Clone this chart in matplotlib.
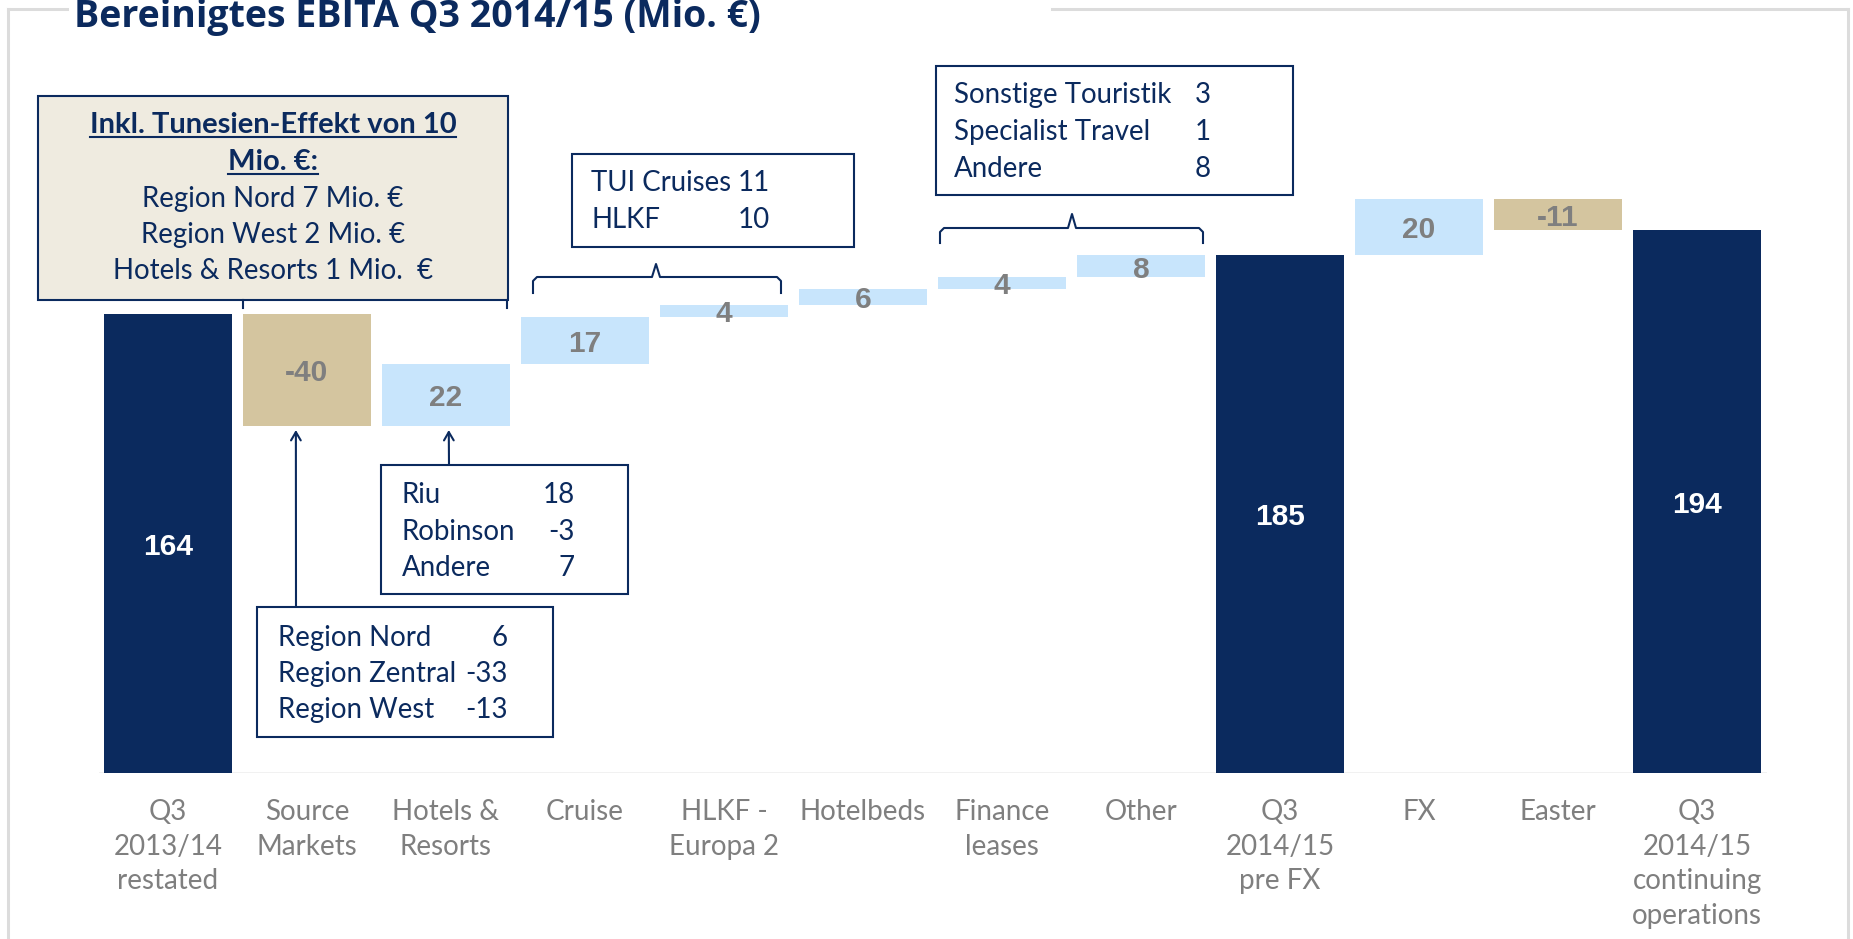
import matplotlib
matplotlib.use("Agg")
import matplotlib.pyplot as plt
from matplotlib.patches import Rectangle
from matplotlib.lines import Line2D

# ---------------- data ----------------
categories = ["Q3\n2013/14\nrestated", "Source\nMarkets", "Hotels &\nResorts", "Cruise",
              "HLKF -\nEuropa 2", "Hotelbeds", "Finance\nleases", "Other",
              "Q3\n2014/15\npre FX", "FX", "Easter",
              "Q3\n2014/15\ncontinuing\noperations"]
values = [164, -40, 22, 17, 4, 6, 4, 8, 185, 20, -11, 194]
is_total = [True, False, False, False, False, False, False, False, True, False, False, True]

title = "Bereinigtes EBITA Q3 2014/15 (Mio. €)"
box_tunesien_head = ["Inkl. Tunesien-Effekt von 10", "Mio. €:"]
box_tunesien_lines = ["Region Nord 7 Mio. €", "Region West 2 Mio. €", "Hotels & Resorts 1 Mio.  €"]
box_cruise_labels = ["TUI Cruises", "HLKF"]
box_cruise_values = ["11", "10"]
box_other_labels = ["Sonstige Touristik", "Specialist Travel", "Andere"]
box_other_values = ["3", "1", "8"]
box_hotels_labels = ["Riu", "Robinson", "Andere"]
box_hotels_values = ["18", "-3", "7"]
box_source_labels = ["Region Nord", "Region Zentral", "Region West"]
box_source_values = ["6", "-33", "-13"]

# ---------------- style ----------------
NAVY = "#0B2A5E"
TAN = "#D4C59F"
LIGHT = "#C8E5FC"
GRAY = "#7F7F7F"
BEIGE = "#EFEBE0"
FRAME = "#DCDCDC"
W, H = 1853, 939
BOXFONT = "Lato"
BOXFS = 19.9

fig = plt.figure(figsize=(W / 100, H / 100), dpi=100)


def P(x, y):
    """full-image pixel (from top-left) -> figure fraction"""
    return x / W, 1 - y / H


# axes placement
left_px, right_px = 98.5, 1766.5
base_px, top_px = 773, 73
ax = fig.add_axes([left_px / W, (H - base_px) / H, (right_px - left_px) / W, (base_px - top_px) / H])
ax.set_xlim(-0.5, len(values) - 0.5)
ax.set_ylim(0, 250)
for s in ax.spines.values():
    s.set_visible(False)
ax.set_yticks([])

# waterfall geometry
bottoms, heights, colors = [], [], []
running = 0
for v, tot in zip(values, is_total):
    if tot:
        bottoms.append(0)
        heights.append(v)
        colors.append(NAVY)
        running = v
    else:
        if v >= 0:
            bottoms.append(running)
            colors.append(LIGHT)
        else:
            bottoms.append(running + v)
            colors.append(TAN)
        heights.append(abs(v))
        running += v

xs = list(range(len(values)))
ax.bar(xs, heights, bottom=bottoms, width=0.915, color=colors, zorder=2)
ax.axhline(0, color="#BBBBBB", lw=1.0, zorder=1)

for x, b, h, v, tot in zip(xs, bottoms, heights, values, is_total):
    ax.text(x, b + h / 2 - 1.2, f"{v}", ha="center", va="center",
            fontsize=21.5, fontweight="bold", family="Liberation Sans",
            color="white" if tot else GRAY, zorder=3)

ax.set_xticks(xs)
ax.set_xticklabels(categories, fontsize=20, color=GRAY, family=BOXFONT, linespacing=1.4)
ax.tick_params(axis="x", length=0, pad=19)

# ---------------- frame ----------------
for (x0, y0, x1, y1) in [(8, 9, 67, 9), (1052, 9, 1848, 9), (8, 9, 8, 939), (1848, 9, 1848, 939)]:
    fig.add_artist(Line2D([P(x0, y0)[0], P(x1, y1)[0]], [P(x0, y0)[1], P(x1, y1)[1]],
                          color=FRAME, lw=2.2, transform=fig.transFigure))

# title
fig.text(*P(74, 27), title, fontsize=27, fontweight="bold", family="Open Sans",
         color=NAVY, ha="left", va="baseline")


def rect(x0, y0, x1, y1, fc="white", lw=1.5):
    fx0, fy1 = P(x0, y0)
    fx1, fy0 = P(x1, y1)
    fig.add_artist(Rectangle((fx0, fy0), fx1 - fx0, fy1 - fy0, transform=fig.transFigure,
                             facecolor=fc, edgecolor=NAVY, lw=lw, zorder=5))


def line(pts, lw=1.5):
    fig.add_artist(Line2D([P(*p)[0] for p in pts], [P(*p)[1] for p in pts],
                          color=NAVY, lw=lw, transform=fig.transFigure, zorder=5))


def table(labels, vals, xl, xr, ys, fs=BOXFS):
    for lab, val, y in zip(labels, vals, ys):
        fig.text(*P(xl, y), lab, fontsize=fs, family=BOXFONT, color=NAVY,
                 ha="left", va="center", zorder=6)
        fig.text(*P(xr, y), val, fontsize=fs, family=BOXFONT, color=NAVY,
                 ha="right", va="center", zorder=6)


# Tunesien box
rect(38, 96, 508, 300, fc=BEIGE)
line([(243, 300), (243, 308)])
line([(507, 300), (507, 308)])
head_texts = []
for t, y in zip(box_tunesien_head, [125, 162]):
    head_texts.append(fig.text(*P(273, y), t, fontsize=21, fontweight="bold", family=BOXFONT,
                               color=NAVY, ha="center", va="center", zorder=6))
for t, y in zip(box_tunesien_lines, [199, 235, 271]):
    fig.text(*P(273, y), t, fontsize=BOXFS, family=BOXFONT, color=NAVY,
             ha="center", va="center", zorder=6)

# Cruise box + brace
rect(572, 154, 854, 247)
table(box_cruise_labels, box_cruise_values, 591, 770, [183, 220])
line([(533, 293), (533, 281), (537, 277), (652, 277), (656, 264), (660, 277), (777, 277), (781, 281), (781, 293)])

# Other box + brace
rect(936, 66, 1293, 195)
table(box_other_labels, box_other_values, 954, 1211, [95, 132, 169])
line([(940, 243), (940, 232), (944, 228), (1068, 228), (1072, 214), (1076, 228), (1199, 228), (1203, 232), (1203, 243)])

# Hotels box + arrow
rect(381, 465, 628, 594)
table(box_hotels_labels, box_hotels_values, 402, 575, [495, 532, 568])
ax.annotate("", xy=(2.02, bottoms[2] - 1.5), xycoords="data",
            xytext=P(449, 465), textcoords="figure fraction",
            arrowprops=dict(arrowstyle="->,head_length=0.6,head_width=0.35", color=NAVY, lw=1.5,
                            shrinkA=0, shrinkB=0), annotation_clip=False)

# Source markets box + arrow
rect(257, 607, 553, 737)
table(box_source_labels, box_source_values, 278, 508, [638, 674, 710])
ax.annotate("", xy=(0.92, bottoms[1] - 1.5), xycoords="data",
            xytext=P(296, 607), textcoords="figure fraction",
            arrowprops=dict(arrowstyle="->,head_length=0.6,head_width=0.35", color=NAVY, lw=1.5,
                            shrinkA=0, shrinkB=0), annotation_clip=False)

# underline header texts
fig.canvas.draw()
r = fig.canvas.get_renderer()
for t in head_texts:
    bb = t.get_window_extent(r)
    yline = bb.y0 + 1
    fig.add_artist(Line2D([bb.x0 / W, bb.x1 / W], [yline / H, yline / H], color=NAVY, lw=1.5,
                          transform=fig.transFigure, zorder=6))

fig.savefig("out.png", dpi=100)
